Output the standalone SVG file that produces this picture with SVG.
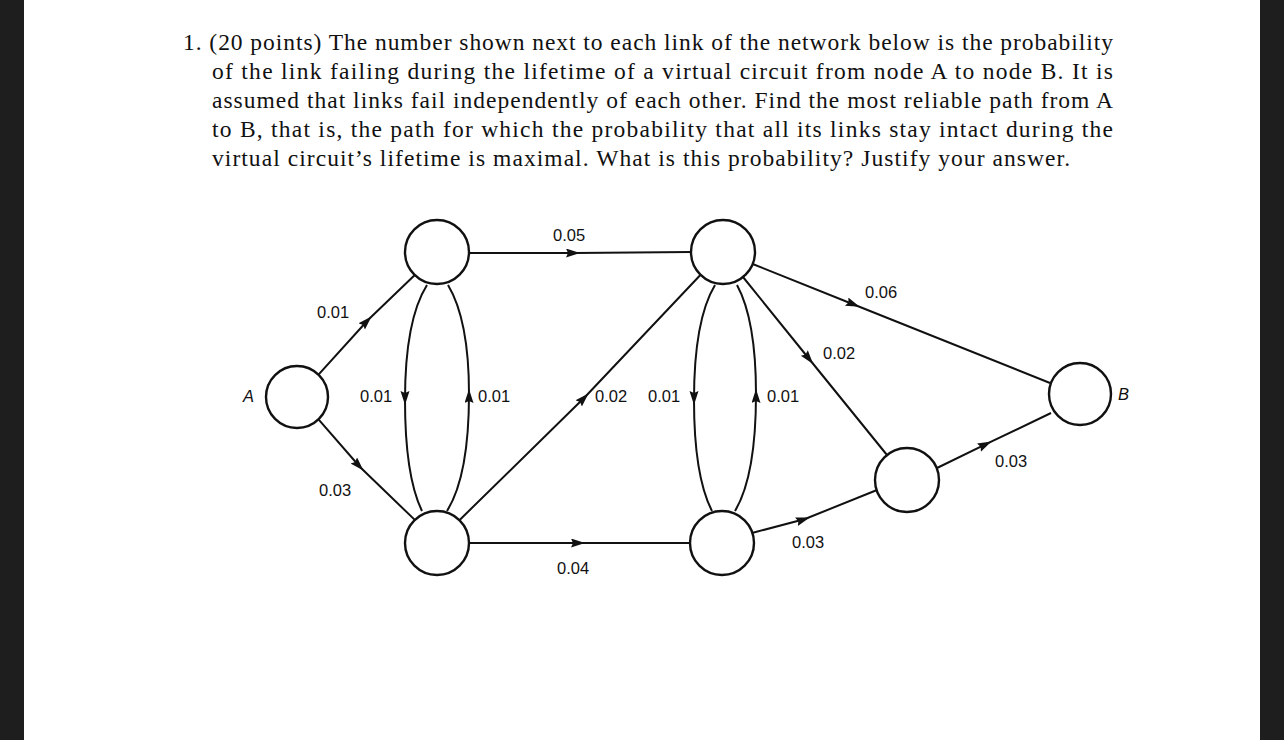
<svg xmlns="http://www.w3.org/2000/svg" width="1284" height="740" viewBox="0 0 1284 740">
<style>
.hd{font-family:"Liberation Serif","DejaVu Serif",serif;font-size:23.5px;fill:#111}
.lb{font-family:"Liberation Sans",Arial,sans-serif;font-size:16.5px;fill:#111}
.nd{fill:#fff;stroke:#111;stroke-width:2.4}
.ed{fill:none;stroke:#111;stroke-width:2;marker-mid:url(#ar)}
</style>
<defs>
<marker id="ar" markerUnits="userSpaceOnUse" markerWidth="16" markerHeight="12" refX="9" refY="4.5" orient="auto"><path d="M0,0 L14,4.5 L0,9 L2,4.5 z" fill="#111"/></marker>
</defs>
<rect width="1284" height="740" fill="#1e1e1e"/>
<rect x="24" y="0" width="1236" height="740" fill="#fff"/>
<g id="header">
<text class="hd" x="183" y="50" textLength="930" lengthAdjust="spacing">1. (20 points) The number shown next to each link of the network below is the probability</text>
<text class="hd" x="212" y="79" textLength="901" lengthAdjust="spacing">of the link failing during the lifetime of a virtual circuit from node A to node B. It is</text>
<text class="hd" x="212" y="108" textLength="901" lengthAdjust="spacing">assumed that links fail independently of each other. Find the most reliable path from A</text>
<text class="hd" x="212" y="137" textLength="901" lengthAdjust="spacing">to B, that is, the path for which the probability that all its links stay intact during the</text>
<text class="hd" x="212" y="166" textLength="858" lengthAdjust="spacing">virtual circuit’s lifetime is maximal. What is this probability? Justify your answer.</text>
</g>
<g id="connectors">
<path class="ed" d="M318.5,374.7 L368,320 L414.8,275"/>
<path class="ed" d="M318.5,419.4 L360,467 L414.8,519.9"/>
<path class="ed" d="M469,253 L575,253 L691,252"/>
<path class="ed" d="M469,543 L580,543 L690,543"/>
<path class="ed" d="M459.4,520.2 L585,397 L700.6,274.8"/>
<path class="ed" d="M752.7,264 L855,305 L1050,383"/>
<path class="ed" d="M743,277 L810,360 L887,455"/>
<path class="ed" d="M752,533 L805,519 L877,490"/>
<path class="ed" d="M937,468 L987,443.7 L1051,413"/>
<path class="ed" d="M427,285 Q405,320 405,400 Q405,476 422,511"/>
<path class="ed" d="M447,511 Q469,476 469,394 Q469,320 448,285"/>
<path class="ed" d="M715,285 Q694,320 694,400 Q694,476 712,511"/>
<path class="ed" d="M735,511 Q756,476 756,394 Q756,320 737,285"/>
</g>
<g id="nodeA"><circle class="nd" cx="297" cy="397" r="31"/><text class="lb" x="243" y="402" font-style="italic" font-size="15">A</text></g>
<g id="n1"><circle class="nd" cx="437" cy="252" r="32"/></g>
<g id="n2"><circle class="nd" cx="437" cy="543" r="32"/></g>
<g id="n3"><circle class="nd" cx="723" cy="252" r="32"/></g>
<g id="n4"><circle class="nd" cx="722" cy="543" r="32"/></g>
<g id="n5"><circle class="nd" cx="907" cy="480" r="32"/></g>
<g id="nodeB"><circle class="nd" cx="1080" cy="394" r="31"/><text class="lb" x="1118" y="400" font-style="italic" font-size="14">B</text></g>
<g id="labels">
<text class="lb" x="553" y="241">0.05</text>
<text class="lb" x="865" y="298">0.06</text>
<text class="lb" x="317" y="318">0.01</text>
<text class="lb" x="823" y="359">0.02</text>
<text class="lb" x="360" y="402">0.01</text>
<text class="lb" x="478" y="402">0.01</text>
<text class="lb" x="595" y="402">0.02</text>
<text class="lb" x="648" y="402">0.01</text>
<text class="lb" x="767" y="402">0.01</text>
<text class="lb" x="995" y="467">0.03</text>
<text class="lb" x="319" y="496">0.03</text>
<text class="lb" x="792" y="548">0.03</text>
<text class="lb" x="557" y="574">0.04</text>
</g>
</svg>
